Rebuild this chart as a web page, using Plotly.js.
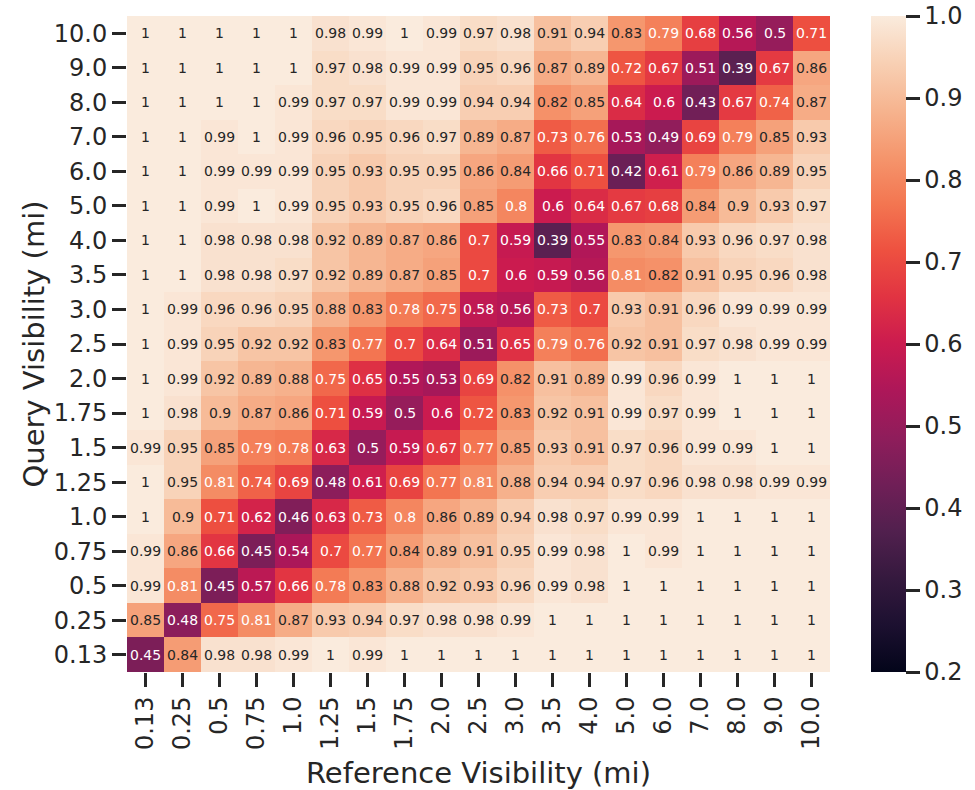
<!DOCTYPE html>
<html>
<head>
<meta charset="utf-8">
<script src="https://cdn.plot.ly/plotly-3.0.1.min.js"></script>
<style>body{margin:0;padding:0;background:#fff;} #chart{width:975px;height:790px;}</style>
</head>
<body>
<div id="chart"></div>
<script>
// Reference (x) categories
const xLabels = ["0.13","0.25","0.5","0.75","1.0","1.25","1.5","1.75","2.0","2.5","3.0","3.5","4.0","5.0","6.0","7.0","8.0","9.0","10.0"];
// Query (y) categories, top to bottom
const yLabels = ["10.0","9.0","8.0","7.0","6.0","5.0","4.0","3.5","3.0","2.5","2.0","1.75","1.5","1.25","1.0","0.75","0.5","0.25","0.13"];

const row_10_0 = [1,1,1,1,1,0.98,0.99,1,0.99,0.97,0.98,0.91,0.94,0.83,0.79,0.68,0.56,0.5,0.71];
const row_9_0  = [1,1,1,1,1,0.97,0.98,0.99,0.99,0.95,0.96,0.87,0.89,0.72,0.67,0.51,0.39,0.67,0.86];
const row_8_0  = [1,1,1,1,0.99,0.97,0.97,0.99,0.99,0.94,0.94,0.82,0.85,0.64,0.6,0.43,0.67,0.74,0.87];
const row_7_0  = [1,1,0.99,1,0.99,0.96,0.95,0.96,0.97,0.89,0.87,0.73,0.76,0.53,0.49,0.69,0.79,0.85,0.93];
const row_6_0  = [1,1,0.99,0.99,0.99,0.95,0.93,0.95,0.95,0.86,0.84,0.66,0.71,0.42,0.61,0.79,0.86,0.89,0.95];
const row_5_0  = [1,1,0.99,1,0.99,0.95,0.93,0.95,0.96,0.85,0.8,0.6,0.64,0.67,0.68,0.84,0.9,0.93,0.97];
const row_4_0  = [1,1,0.98,0.98,0.98,0.92,0.89,0.87,0.86,0.7,0.59,0.39,0.55,0.83,0.84,0.93,0.96,0.97,0.98];
const row_3_5  = [1,1,0.98,0.98,0.97,0.92,0.89,0.87,0.85,0.7,0.6,0.59,0.56,0.81,0.82,0.91,0.95,0.96,0.98];
const row_3_0  = [1,0.99,0.96,0.96,0.95,0.88,0.83,0.78,0.75,0.58,0.56,0.73,0.7,0.93,0.91,0.96,0.99,0.99,0.99];
const row_2_5  = [1,0.99,0.95,0.92,0.92,0.83,0.77,0.7,0.64,0.51,0.65,0.79,0.76,0.92,0.91,0.97,0.98,0.99,0.99];
const row_2_0  = [1,0.99,0.92,0.89,0.88,0.75,0.65,0.55,0.53,0.69,0.82,0.91,0.89,0.99,0.96,0.99,1,1,1];
const row_1_75 = [1,0.98,0.9,0.87,0.86,0.71,0.59,0.5,0.6,0.72,0.83,0.92,0.91,0.99,0.97,0.99,1,1,1];
const row_1_5  = [0.99,0.95,0.85,0.79,0.78,0.63,0.5,0.59,0.67,0.77,0.85,0.93,0.91,0.97,0.96,0.99,0.99,1,1];
const row_1_25 = [1,0.95,0.81,0.74,0.69,0.48,0.61,0.69,0.77,0.81,0.88,0.94,0.94,0.97,0.96,0.98,0.98,0.99,0.99];
const row_1_0  = [1,0.9,0.71,0.62,0.46,0.63,0.73,0.8,0.86,0.89,0.94,0.98,0.97,0.99,0.99,1,1,1,1];
const row_0_75 = [0.99,0.86,0.66,0.45,0.54,0.7,0.77,0.84,0.89,0.91,0.95,0.99,0.98,1,0.99,1,1,1,1];
const row_0_5  = [0.99,0.81,0.45,0.57,0.66,0.78,0.83,0.88,0.92,0.93,0.96,0.99,0.98,1,1,1,1,1,1];
const row_0_25 = [0.85,0.48,0.75,0.81,0.87,0.93,0.94,0.97,0.98,0.98,0.99,1,1,1,1,1,1,1,1];
const row_0_13 = [0.45,0.84,0.98,0.98,0.99,1,0.99,1,1,1,1,1,1,1,1,1,1,1,1];

const zRows = [row_10_0,row_9_0,row_8_0,row_7_0,row_6_0,row_5_0,row_4_0,row_3_5,row_3_0,row_2_5,row_2_0,row_1_75,row_1_5,row_1_25,row_1_0,row_0_75,row_0_5,row_0_25,row_0_13];

const colorbarTicks = [0.2,0.3,0.4,0.5,0.6,0.7,0.8,0.9,1.0];

// seaborn "rocket" approximation
const rocket = [
  [0.0,   "#03051a"],
  [0.071, "#1c1030"],
  [0.143, "#35193e"],
  [0.214, "#51204e"],
  [0.286, "#701f57"],
  [0.357, "#8f1d5b"],
  [0.429, "#ad1759"],
  [0.5,   "#cb1b4f"],
  [0.571, "#e13342"],
  [0.643, "#ee5140"],
  [0.714, "#f37651"],
  [0.786, "#f5966d"],
  [0.857, "#f6b48f"],
  [0.929, "#f8d0b4"],
  [1.0,   "#faebdd"]
];

const font = "DejaVu Sans, sans-serif";
const dark = "#262626";

// cell annotations, placed by category index on the axes
const annotations = [];
zRows.forEach((row, i) => {
  row.forEach((v, j) => {
    annotations.push({
      x: j, y: i, xref: "x", yref: "y",
      text: String(v), showarrow: false,
      font: {family: font, size: 14, color: v > 0.815 ? dark : "#ffffff"}
    });
  });
});

const trace = {
  type: "heatmap",
  x: xLabels, y: yLabels, z: zRows,
  zmin: 0.2, zmax: 1.0,
  colorscale: rocket,
  xgap: 0, ygap: 0,
  hoverinfo: "skip",
  colorbar: {
    x: 1.058, xanchor: "left", xpad: 0,
    y: 0.5, yanchor: "middle", ypad: 0,
    len: 1, lenmode: "fraction",
    thickness: 35, thicknessmode: "pixels",
    outlinewidth: 0,
    tickvals: colorbarTicks, tickformat: ".1f", tickprefix: "\u00a0",
    ticks: "outside", ticklen: 14, tickwidth: 3, tickcolor: dark,
    tickfont: {family: font, size: 24, color: dark}
  }
};

const layout = {
  width: 975, height: 790,
  margin: {l: 127, r: 141, t: 16, b: 118},
  paper_bgcolor: "#ffffff", plot_bgcolor: "#ffffff",
  font: {family: font, color: dark},
  xaxis: {
    type: "category", tickangle: -90,
    ticks: "outside", ticklen: 14, tickwidth: 3, tickcolor: dark,
    tickfont: {family: font, size: 24, color: dark},
    showgrid: false, zeroline: false, showline: false,
    title: {text: "Reference Visibility (mi)", font: {family: font, size: 29, color: dark}, standoff: 13}
  },
  yaxis: {
    type: "category", autorange: "reversed",
    ticks: "outside", ticklen: 14, tickwidth: 3, tickcolor: dark,
    tickfont: {family: font, size: 24, color: dark},
    showgrid: false, zeroline: false, showline: false,
    title: {text: "Query Visibility (mi)", font: {family: font, size: 29, color: dark}, standoff: 0}
  },
  annotations: annotations
};

Plotly.newPlot("chart", [trace], layout, {displayModeBar: false, staticPlot: true});
</script>
</body>
</html>
